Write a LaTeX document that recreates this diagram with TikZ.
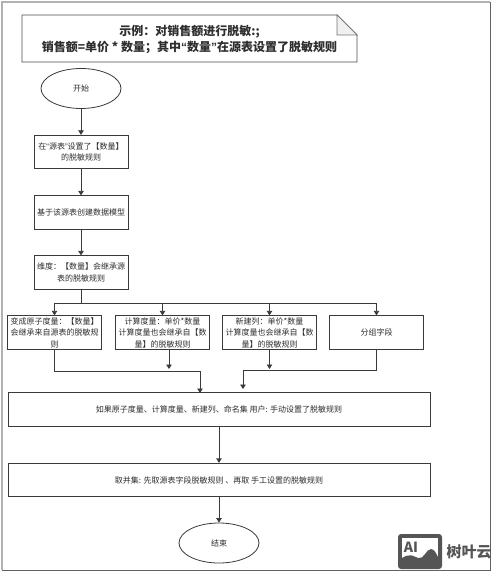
\documentclass[tikz,border=0pt]{standalone}
\usepackage{fontspec}
\setmainfont{Noto Sans CJK SC}
\newfontfamily\lat{Liberation Sans}
\newcommand{\qopen}{{\lat “}}
\newcommand{\qclose}{{\lat ”}}
\usetikzlibrary{shapes.geometric,arrows.meta}
\definecolor{ln}{HTML}{3A3A3A}
\definecolor{txt}{HTML}{2E2E2E}
\definecolor{wm}{HTML}{555555}
\tikzset{
  x=1pt,y=-1pt,
  stepbox/.style={draw=ln,line width=0.8pt,fill=white,minimum height=33.5pt,align=center,text=txt,font=\fontsize{8}{11.5}\selectfont,inner sep=0pt},
  narrow/.style={stepbox,minimum width=94pt,text width=90pt},
  wide/.style={stepbox,minimum width=422pt},
  term/.style={draw=ln,line width=0.8pt,ellipse,minimum width=80pt,minimum height=40pt,text=txt,font=\fontsize{8}{10}\selectfont,inner sep=0pt},
  flow/.style={draw=ln,line width=0.8pt,-{Triangle[length=4.5pt,width=5.5pt]}},
  plain/.style={draw=ln,line width=0.8pt},
}
\begin{document}
\begin{tikzpicture}
\useasboundingbox (0,0) rectangle (500,580);
\fill[white] (0,0) rectangle (500,580);
% frame
\draw[line width=1.2pt,color=black!30] (2,570) -- (2,2) -- (490,2);
\draw[line width=0.8pt,color=ln!80] (2,570.5) -- (490,570.5) -- (490,2);
% note
\draw[line width=0.9pt,draw=ln!90,fill=white] (22,15) -- (337,15) -- (357,35) -- (357,62) -- (22,62) -- cycle;
\draw[line width=0.7pt,draw=ln!70,fill=black!6] (337,15) -- (337,35) -- (357,35) -- cycle;
\node[font=\fontsize{12}{16}\selectfont\bfseries,text=txt,align=center,inner sep=0pt] (title) at (189.5,39.5) {示例：对销售额进行脱敏:;\hspace{6pt}\\销售额=单价 * 数量；其中\qopen 数量\qclose 在源表设置了脱敏规则};
% nodes
\node[term] (start) at (81,88.5) {开始};
\node[narrow] (b1) at (81,152) {在\qopen 源表\qclose 设置了【数量】\\的脱敏规则};
\node[narrow] (b2) at (81,212.5) {基于该源表创建数据模型};
\node[narrow] (b3) at (81,272.5) {维度：【数量】会继承源\\表的脱敏规则};
\node[narrow] (c1) at (54.5,332.5) {变成原子度量：【数量】\\会继承来自源表的脱敏规\\则};
\node[narrow] (c2) at (162.5,332.5) {计算度量：单价*数量\\计算度量也会继承自【数\\量】的脱敏规则};
\node[narrow] (c3) at (269.5,332.5) {新建列：单价*数量\\计算度量也会继承自【数\\量】的脱敏规则};
\node[narrow] (c4) at (376.5,332.5) {分组字段};
\node[wide] (d1) at (219,409.5) {如果原子度量、计算度量、新建列、命名集 用户: 手动设置了脱敏规则};
\node[wide] (d2) at (219,480) {取并集: 先取源表字段脱敏规则 、再取 手工设置的脱敏规则};
\node[term] (stop) at (219,543) {结束};
% waypoints
\coordinate (bus) at (81,303);
\coordinate (e2) at (169,369);
\coordinate (e3) at (270,369);
\coordinate (e4) at (243,389);
\coordinate (t1) at (200,393);
% connectors
\draw[flow] (start) -- (b1);
\draw[flow] (b1) -- (b2);
\draw[flow] (b2) -- (b3);
\draw[plain] (b3) -- (bus);
\draw[flow] (bus) -| (c1.north);
\draw[flow] (bus) -| (c2.north);
\draw[flow] (bus) -| (c3.north);
\draw[flow] (bus) -| (c4.north);
\draw[flow] (c1.south) -- ++(0,22) -| (t1);
\draw[flow] (e2 |- c2.south) -- (e2);
\draw[flow] (c3.south) -- (c3.south |- e3);
\draw[flow] (c4.south) -- ++(0,20.5) -| (e4);
\draw[flow] (d1) -- (d2);
\draw[flow] (d2) -- (stop);
% watermark
\fill[wm,rounded corners=3pt] (398,534) rectangle (442,569);
\fill[white] (402,538) rectangle (438,565);
\fill[wm] (402,565) -- (402,558) .. controls (410,553) and (413,556) .. (418,558) .. controls (424,560) and (426,549) .. (431,549) .. controls (434,549) and (436,553) .. (438,557) -- (438,565) -- cycle;
\node[font=\fontsize{14}{14}\selectfont\bfseries,text=wm,inner sep=0pt] (ai) at (411,547) {AI};
\node[font=\fontsize{15}{15}\selectfont\bfseries,text=wm,inner sep=0pt,anchor=west] (wmt) at (446.5,552) {树叶云};
\end{tikzpicture}
\end{document}
